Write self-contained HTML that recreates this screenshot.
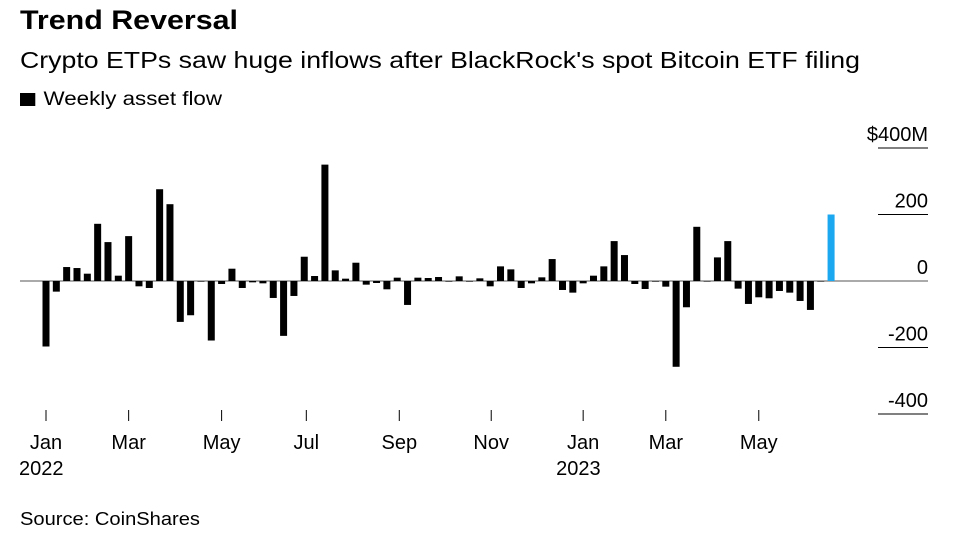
<!DOCTYPE html>
<html><head><meta charset="utf-8"><style>
body{margin:0;background:#fff;font-family:"Liberation Sans",Arial,sans-serif;}
#wrap{position:relative;width:972px;height:546px;overflow:hidden;}
.t{position:absolute;white-space:nowrap;color:#000;transform-origin:0 0;}
</style></head><body>
<div id="wrap">
<div class="t fit" data-w="218" style="left:20px;top:5px;font-size:27px;font-weight:bold;">Trend Reversal</div>
<div class="t fit" data-w="840" style="left:20px;top:47px;font-size:23px;">Crypto ETPs saw huge inflows after BlackRock's spot Bitcoin ETF filing</div>
<div class="t fit" data-w="202" style="left:20px;top:89px;font-size:19px"><span style="display:inline-block;width:13px;height:13px;background:#000;margin-right:7px;vertical-align:-1px"></span>Weekly asset flow</div>
<div class="t fit" data-w="180" style="left:20px;top:509px;font-size:18px">Source: CoinShares</div>
<svg id="chart" width="972" height="546" style="position:absolute;left:0;top:0"></svg>
</div>
<script>
const values=[-197,-32,42,39,22,172,117,16,135,-16,-21,276,231,-123,-103,-2,-179,-9,37,-21,-4,-7,-51,-165,-45,73,15,350,32,7,55,-11,-6,-25,10,-72,10,9,12,-2,14,-2,8,-16,44,35,-21,-7,11,66,-27,-35,-7,16,44,120,78,-9,-24,-2,-17,-258,-79,163,-1,71,120,-23,-69,-49,-52,-30,-35,-60,-87,-1,200];
const yTicks=[400,200,0,-200,-400];
const yTickLabels=["$400M","200","0","-200","-400"];
const monthLabels=["Jan","Mar","May","Jul","Sep","Nov","Jan","Mar","May"];
const monthIdx=[0,8,17,25.2,34.2,43.1,52,60,69];
const yearLabels=["2022","","","","","","2023","",""];
const NS="http://www.w3.org/2000/svg";
const svg=document.getElementById('chart');
const FF='Liberation Sans, Arial, sans-serif';
const x=i=>46+i*10.33;
const y=v=>281-v*0.3325;
function mk(t,a){const e=document.createElementNS(NS,t);for(const k in a)e.setAttribute(k,a[k]);svg.appendChild(e);return e;}
yTicks.forEach((v,i)=>{
  if(v!==0){const g=mk('line',{x1:878,x2:928,y1:y(v),y2:y(v),stroke:'#000','stroke-width':1});
  
  }
  const t=mk('text',{x:928,y:y(v)-7,'text-anchor':'end','font-size':20,'font-family':FF});
  t.textContent=yTickLabels[i];
  
  
});
const z=mk('line',{x1:20,x2:928,y1:y(0),y2:y(0),stroke:'#555','stroke-width':1});


values.forEach((v,i)=>{
  const last=i===values.length-1;
  const top=Math.min(y(v),y(0)),h=Math.max(Math.abs(y(v)-y(0)),0.6);
  const r=mk('rect',{x:x(i)-3.5,y:top,width:7,height:h,fill:last?'#1ba8f0':'#000'});
  
  
});
monthIdx.forEach((m,i)=>{
  const tk=mk('line',{x1:x(m),x2:x(m),y1:410,y2:421,stroke:'#000','stroke-width':1});
  
  
  const t=mk('text',{x:x(m),y:449,'text-anchor':'middle','font-size':20,'font-family':FF});
  t.textContent=monthLabels[i];
  
  
  if(yearLabels[i]){const yt=mk('text',{x:x(m)-27,y:475,'font-size':20,'font-family':FF});
  yt.textContent=yearLabels[i];
  
  }
});
document.querySelectorAll('.fit').forEach(el=>{
  const w=el.getBoundingClientRect().width;const tw=+el.dataset.w;
  if(w>0)el.style.transform='scaleX('+(tw/w)+')';
});
</script>
</body></html>
